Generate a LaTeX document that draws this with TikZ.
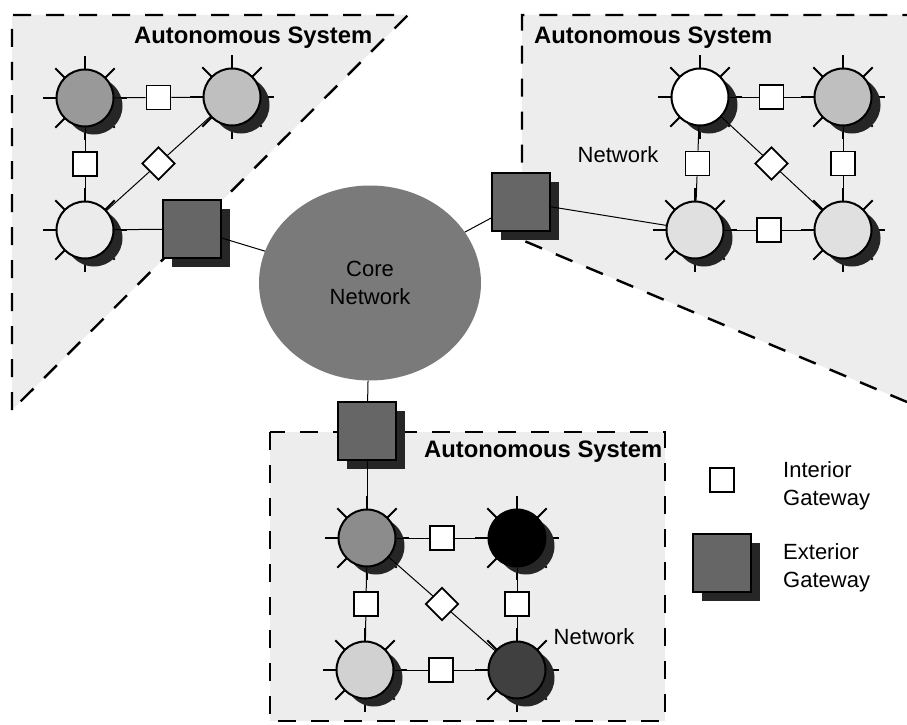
\documentclass[tikz,border=0pt]{standalone}
\usepackage{fontspec}
\setmainfont{Liberation Sans}
\usetikzlibrary{shapes.geometric,shadows,calc}
\begin{document}
\begin{tikzpicture}[x=1pt,y=-1pt,
  region/.style={fill=black!7},
  asborder/.style={line width=2.4pt, dash pattern=on 18pt off 15pt},
  router/.style={circle, draw, line width=2pt, minimum size=57pt, inner sep=0pt,
    drop shadow={shadow xshift=9pt, shadow yshift=-8pt, fill=black!85, opacity=1}},
  spike/.style={line width=2pt},
  igw/.style={rectangle, draw, line width=1.8pt, fill=white, minimum size=24pt, inner sep=0pt},
  dgw/.style={diamond, draw, line width=1.8pt, fill=white, minimum width=33pt, minimum height=33pt, inner sep=0pt},
  egw/.style={rectangle, draw, line width=2pt, fill=black!60, minimum size=58pt, inner sep=0pt,
    drop shadow={shadow xshift=9pt, shadow yshift=-9pt, fill=black!85, opacity=1}},
  link/.style={line width=1pt},
  astitle/.style={font=\fontsize{23.8}{27}\selectfont\bfseries, anchor=west, inner sep=0pt},
  lbl/.style={font=\fontsize{22}{28}\selectfont, inner sep=0pt, align=left},
]
\useasboundingbox (0,0) rectangle (907,725);

% autonomous system regions
\fill[region] (12,15) -- (408,15) -- (12,410) -- cycle;
\draw[asborder] (12,410) -- (12,15) -- (408,15) -- cycle;
\fill[region] (522,15) -- (907,15) -- (907,402) -- (522,240) -- cycle;
\draw[asborder] (907,402) -- (522,240) -- (522,15) -- (907,15);
\fill[region] (270,432) rectangle (665,721);
\draw[asborder] (270,432) rectangle (665,721);

% titles
\node[astitle] (t1) at (134,38) {Autonomous System};
\node[astitle] (t2) at (534,38) {Autonomous System};
\node[astitle] (t3) at (424,452) {Autonomous System};

% core network
\node[ellipse, fill=black!52, minimum width=222pt, minimum height=195pt, inner sep=0pt,
  font=\fontsize{22}{28}\selectfont, align=center, text=black] (core) at (370,283) {Core\\Network};

% exterior gateways
\node[egw] (gl) at (192,229) {};
\node[egw] (gr) at (521,202) {};
\node[egw] (gb) at (367,431) {};

% routers
\foreach \nm/\px/\py/\col in {tla/85/98/black!40, tlb/232/97/black!25, tlc/85/230/black!8,
    tra/700/97/white, trb/843/97/black!25, trc/695/230/black!12, trd/843/230/black!12,
    ba/367/538/black!45, bb/517/538/black, bc/365/670/black!18, bd/517/670/black!75}{
  \foreach \a in {0,45,...,315} \draw[spike] (\px,\py) ++(\a:28) -- ++(\a:14);
  \node[router, fill=\col] (\nm) at (\px,\py) {};
}

% interior gateways
\node[igw] (s1) at ($(tla)!0.5!(tlb)$) {};
\node[igw] (s2) at ($(tla)!0.5!(tlc)$) {};
\node[dgw] (d1) at ($(tlc)!0.5!(tlb)$) {};
\node[igw] (s3) at ($(tra)!0.5!(trb)$) {};
\node[igw] (s4) at ($(tra)!0.5!(trc)$) {};
\node[igw] (s5) at ($(trb)!0.5!(trd)$) {};
\node[igw] (s6) at ($(trc)!0.5!(trd)$) {};
\node[dgw] (d2) at ($(tra)!0.5!(trd)$) {};
\node[igw] (s7) at ($(ba)!0.5!(bb)$) {};
\node[igw] (s8) at ($(ba)!0.5!(bc)$) {};
\node[igw] (s9) at ($(bb)!0.5!(bd)$) {};
\node[igw] (s10) at ($(bc)!0.5!(bd)$) {};
\node[dgw] (d3) at ($(ba)!0.5!(bd)$) {};

% links
\draw[link] (tla) -- (s1) -- (tlb);
\draw[link] (tla) -- (s2) -- (tlc);
\draw[link] (tlc) -- (d1) -- (tlb);
\draw[link] (tlc) -- (gl);
\draw[link] (gl) -- (core);
\draw[link] (gr) -- (core);
\draw[link] (gr) -- (trc);
\draw[link] (core) -- (gb);
\draw[link] (gb) -- (ba);
\draw[link] (tra) -- (s3) -- (trb);
\draw[link] (tra) -- (s4) -- (trc);
\draw[link] (trb) -- (s5) -- (trd);
\draw[link] (trc) -- (s6) -- (trd);
\draw[link] (tra) -- (d2) -- (trd);
\draw[link] (ba) -- (s7) -- (bb);
\draw[link] (ba) -- (s8) -- (bc);
\draw[link] (bb) -- (s9) -- (bd);
\draw[link] (bc) -- (s10) -- (bd);
\draw[link] (ba) -- (d3) -- (bd);

% network labels
\node[lbl] (n1) at (618,155) {Network};
\node[lbl] (n2) at (594,637) {Network};

% legend
\node[igw] (legI) at (722,480) {};
\node[lbl, anchor=west] (tI) at (783,486) {Interior\\Gateway};
\node[egw] (legE) at (722,563) {};
\node[lbl, anchor=west] (tE) at (783,568) {Exterior\\Gateway};
\end{tikzpicture}
\end{document}
